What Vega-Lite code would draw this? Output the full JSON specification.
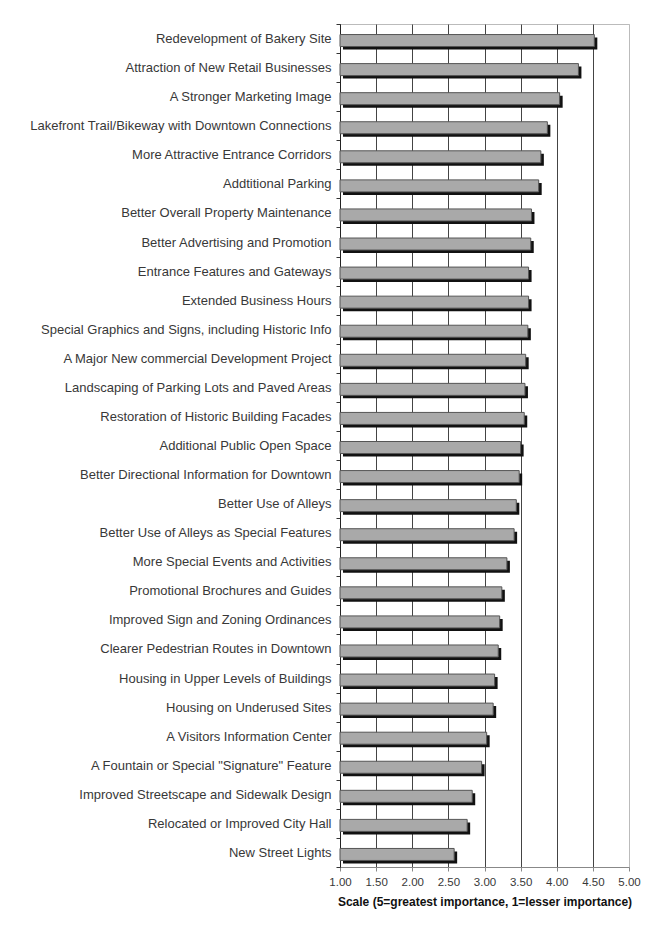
{
  "$schema": "https://vega.github.io/schema/vega-lite/v6.json",
  "autosize": {"type": "none"},
  "padding": {"left": 340, "top": 24, "right": 20, "bottom": 63},
  "width": 289,
  "height": 843,
  "background": "white",
  "config": {
    "font": "Liberation Sans",
    "view": {"stroke": "#bbbbbb", "strokeWidth": 1}
  },
  "data": {
    "values": [
      {"rank": 1, "item": "Redevelopment of Bakery Site", "score": 4.52},
      {"rank": 2, "item": "Attraction of New Retail Businesses", "score": 4.30},
      {"rank": 3, "item": "A Stronger Marketing Image", "score": 4.04},
      {"rank": 4, "item": "Lakefront Trail/Bikeway with Downtown Connections", "score": 3.87},
      {"rank": 5, "item": "More Attractive Entrance Corridors", "score": 3.78},
      {"rank": 6, "item": "Addtitional Parking", "score": 3.75},
      {"rank": 7, "item": "Better Overall Property Maintenance", "score": 3.65},
      {"rank": 8, "item": "Better Advertising and Promotion", "score": 3.64},
      {"rank": 9, "item": "Entrance Features and Gateways", "score": 3.61},
      {"rank": 10, "item": "Extended Business Hours", "score": 3.61},
      {"rank": 11, "item": "Special Graphics and Signs, including Historic Info", "score": 3.60},
      {"rank": 12, "item": "A Major New commercial Development Project", "score": 3.57},
      {"rank": 13, "item": "Landscaping of Parking Lots and Paved Areas", "score": 3.56},
      {"rank": 14, "item": "Restoration of Historic Building Facades", "score": 3.55},
      {"rank": 15, "item": "Additional Public Open Space", "score": 3.50},
      {"rank": 16, "item": "Better Directional Information for Downtown", "score": 3.48},
      {"rank": 17, "item": "Better Use of Alleys ", "score": 3.44},
      {"rank": 18, "item": "Better Use of Alleys as Special Features", "score": 3.41},
      {"rank": 19, "item": "More Special Events and Activities", "score": 3.31},
      {"rank": 20, "item": "Promotional Brochures and Guides", "score": 3.24},
      {"rank": 21, "item": "Improved Sign and Zoning Ordinances", "score": 3.21},
      {"rank": 22, "item": "Clearer Pedestrian Routes in Downtown", "score": 3.19},
      {"rank": 23, "item": "Housing in Upper Levels of Buildings", "score": 3.14},
      {"rank": 24, "item": "Housing on Underused Sites", "score": 3.12},
      {"rank": 25, "item": "A Visitors Information Center", "score": 3.03},
      {"rank": 26, "item": "A Fountain or Special \"Signature\" Feature", "score": 2.96},
      {"rank": 27, "item": "Improved Streetscape and Sidewalk Design", "score": 2.83},
      {"rank": 28, "item": "Relocated or Improved City Hall", "score": 2.76},
      {"rank": 29, "item": "New Street Lights", "score": 2.58}
    ]
  },
  "encoding": {
    "y": {
      "field": "item",
      "type": "nominal",
      "sort": {"field": "rank", "order": "ascending"},
      "scale": {"paddingInner": 0, "paddingOuter": 0},
      "axis": {
        "title": null,
        "tickBand": "extent",
        "tickSize": 4,
        "tickColor": "#333333",
        "domainColor": "#222222",
        "labelFontSize": 13,
        "labelColor": "#383838",
        "labelPadding": 5,
        "labelLimit": 400,
        "grid": false
      }
    },
    "x": {
      "field": "score",
      "type": "quantitative",
      "scale": {"domain": [1, 5], "nice": false, "zero": false},
      "axis": {
        "values": [1, 1.5, 2, 2.5, 3, 3.5, 4, 4.5, 5],
        "format": ".2f",
        "labelFlush": false,
        "labelOverlap": false,
        "grid": true,
        "gridColor": {"condition": {"test": "datum.value === 5", "value": "#bbbbbb"}, "value": "#444444"},
        "gridWidth": 1,
        "domainColor": "#888888",
        "tickColor": "#888888",
        "tickSize": 4,
        "labelFontSize": 11.5,
        "labelColor": "#383838",
        "labelPadding": 5,
        "title": "Scale (5=greatest importance, 1=lesser importance)",
        "titleFontSize": 12,
        "titleFontWeight": "bold",
        "titleColor": "#111111",
        "titlePadding": 9
      }
    }
  },
  "layer": [
    {
      "mark": {"type": "bar", "color": "#111111", "height": 12, "yOffset": 5, "xOffset": 3, "x2Offset": 3},
      "encoding": {"x2": {"datum": 1}}
    },
    {
      "mark": {"type": "bar", "color": "#a9a9a9", "stroke": "#555555", "strokeWidth": 1, "height": 12, "yOffset": 2},
      "encoding": {"x2": {"datum": 1}}
    }
  ]
}
